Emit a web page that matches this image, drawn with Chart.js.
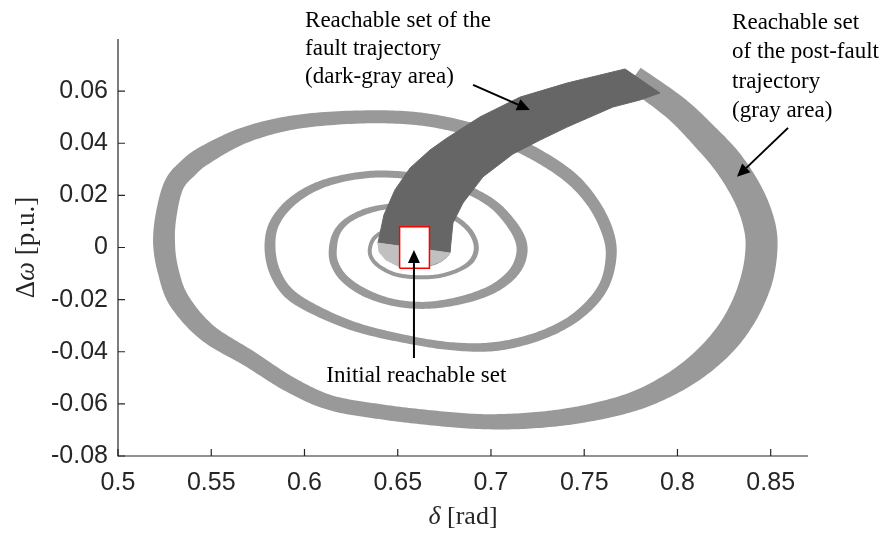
<!DOCTYPE html>
<html>
<head>
<meta charset="utf-8">
<title>Reachable sets in the δ–Δω plane</title>
<script src="https://cdn.jsdelivr.net/npm/chart.js@4.4.1/dist/chart.umd.min.js"></script>
<style>
  html, body { margin: 0; padding: 0; background: #fff; }
  #wrap { width: 887px; height: 534px; }
</style>
</head>
<body>
<div id="wrap"><canvas id="phase" width="887" height="534"></canvas></div>
<script>
// ---- data: [delta (rad), delta-omega (p.u.)] ----
const xTicks = [0.5, 0.55, 0.6, 0.65, 0.7, 0.75, 0.8, 0.85];
const yTicks = [-0.08, -0.06, -0.04, -0.02, 0, 0.02, 0.04, 0.06];

// post-fault reachable set, centre line of the spiral band, one array per turn
const postFaultTurn1 = [
  [0.7765, 0.0652], [0.7988, 0.0536], [0.8138, 0.0432], [0.8273, 0.0324], [0.8380, 0.0201],
  [0.8439, 0.0086], [0.8450, -0.0010], [0.8423, -0.0126], [0.8353, -0.0249], [0.8251, -0.0357],
  [0.8112, -0.0453], [0.7951, -0.0530], [0.7747, -0.0595], [0.7479, -0.0641], [0.7210, -0.0664],
  [0.6942, -0.0668], [0.6674, -0.0653], [0.6406, -0.0630], [0.6137, -0.0595], [0.5923, -0.0526],
  [0.5703, -0.0426], [0.5477, -0.0326], [0.5327, -0.0203], [0.5268, -0.0087], [0.5247, 0.0017],
  [0.5258, 0.0124], [0.5300, 0.0240], [0.5376, 0.0305], [0.5467, 0.0355], [0.5681, 0.0432],
  [0.5960, 0.0482], [0.6314, 0.0501], [0.6620, 0.0493]
];
const postFaultTurn2 = [
  [0.6888, 0.0455], [0.7103, 0.0405], [0.7291, 0.0336], [0.7441, 0.0259], [0.7548, 0.0170],
  [0.7618, 0.0074], [0.7645, -0.0018], [0.7618, -0.0126], [0.7543, -0.0210], [0.7414, -0.0287],
  [0.7237, -0.0345], [0.7023, -0.0380], [0.6808, -0.0380], [0.6583, -0.0357], [0.6298, -0.0310],
  [0.6084, -0.0249], [0.5923, -0.0180], [0.5842, -0.0095], [0.5815, 0.0001], [0.5837, 0.0090],
  [0.5923, 0.0170], [0.6057, 0.0232], [0.6218, 0.0267], [0.6406, 0.0282], [0.6620, 0.0270]
];
const postFaultTurn3 = [
  [0.6824, 0.0236], [0.6996, 0.0174], [0.7103, 0.0097], [0.7162, 0.0020], [0.7157, -0.0049],
  [0.7103, -0.0110], [0.6996, -0.0164], [0.6835, -0.0203], [0.6647, -0.0222], [0.6470, -0.0210],
  [0.6320, -0.0172], [0.6212, -0.0118], [0.6159, -0.0057], [0.6153, 0.0001], [0.6175, 0.0059],
  [0.6234, 0.0105], [0.6336, 0.0140], [0.6470, 0.0159], [0.6620, 0.0155]
];
const postFaultTurn4 = [
  [0.6754, 0.0132], [0.6851, 0.0090], [0.6905, 0.0043], [0.6921, -0.0007], [0.6894, -0.0053],
  [0.6824, -0.0087], [0.6717, -0.0110], [0.6599, -0.0114], [0.6486, -0.0103], [0.6400, -0.0072],
  [0.6357, -0.0037], [0.6352, 0.0001], [0.6379, 0.0040], [0.6449, 0.0067], [0.6550, 0.0074]
];
const postFaultTurn5 = [
  [0.6663, 0.0063], [0.6744, 0.0036], [0.6776, -0.0003], [0.6754, -0.0037], [0.6685, -0.0064],
  [0.6583, -0.0072], [0.6486, -0.0060]
];

// fault reachable set: the two long edges of the dark band
const faultUpperEdge = [
  [0.6394, 0.0017], [0.6426, 0.0125], [0.6485, 0.0221], [0.6566, 0.0305], [0.6673, 0.0374],
  [0.6764, 0.0420], [0.6941, 0.0501], [0.7156, 0.0577], [0.7408, 0.0631], [0.7719, 0.0685]
];
const faultLowerEdge = [
  [0.6780, -0.0021], [0.6796, 0.0094], [0.6850, 0.0171], [0.6957, 0.0271], [0.7118, 0.0359],
  [0.7263, 0.0412], [0.7408, 0.0462], [0.7654, 0.0539], [0.7799, 0.0566], [0.7906, 0.0593]
];

// light patch under the start of the fault band
const initialPatch = [
  [0.6394, 0.0017], [0.6400, -0.0017], [0.6437, -0.0048], [0.6501, -0.0071], [0.6582, -0.0079],
  [0.6662, -0.0071], [0.6732, -0.0052], [0.6770, -0.0033], [0.6780, -0.0021]
];

// initial reachable set (box)
const initialDelta = [0.651, 0.667];
const initialOmega = [-0.008, 0.008];

// ---- styles ----
// band thickness (px) along the spiral, one entry per centre-line point
const bandWidthTurn1 = [24, 26, 28, 30, 31, 32, 32, 32, 30, 28, 25, 22, 19, 17, 16, 15, 15, 15, 15, 16,
  17, 19, 21, 21, 22, 21, 20, 20, 19, 16, 14, 13, 13];
const bandWidthTurn2 = [13, 13, 13, 13, 12, 12, 11, 10, 10, 9, 9, 9, 8, 8, 9, 10, 11, 11, 11, 10, 9, 8, 7, 7, 7];
const bandWidthTurn3 = [8, 9, 10, 11, 11, 10, 9, 8, 7, 7, 8, 8, 8, 8, 7, 6, 6, 5, 5];
const bandWidthTurn4 = [5, 5, 5, 5, 5, 4, 4, 4, 4, 4, 4, 4, 4, 4, 4];
const bandWidthTurn5 = [3, 3, 3, 3, 3, 3, 3];

const COLORS = {
  postFault: "#999999",
  fault: "#666666",
  patch: "#c0c0c0",
  box: "#ff0000",
  axis: "#262626",
  text: "#000000",
};
const SANS = "'Liberation Sans', Arial, Helvetica, sans-serif";
const SERIF = "'Liberation Serif', 'Times New Roman', serif";

// ---- annotations (anchored in data coordinates) ----
const notes = [
  { lines: ["Reachable set of the", "fault trajectory", "(dark-gray area)"], at: [0.6003, 0.0869], lineHeight: 28 },
  { lines: ["Reachable set", "of the post-fault", "trajectory", "(gray area)"], at: [0.8293, 0.0862], lineHeight: 29.5 },
];
const initialNote = { text: "Initial reachable set", at: [0.6600, -0.0493] };
const arrows = [
  { from: [0.6904, 0.0624], to: [0.7209, 0.0528] },
  { from: [0.8593, 0.0459], to: [0.8319, 0.0271] },
  { from: [0.6587, -0.0424], to: [0.6587, -0.0010] },
];

const toPoints = (pairs) => pairs.map(([x, y]) => ({ x, y }));

const spiral = toPoints([...postFaultTurn1, ...postFaultTurn2, ...postFaultTurn3, ...postFaultTurn4, ...postFaultTurn5]);
const spiralWidth = [...bandWidthTurn1, ...bandWidthTurn2, ...bandWidthTurn3, ...bandWidthTurn4, ...bandWidthTurn5];

const faultShape = toPoints([...faultUpperEdge, ...faultLowerEdge.slice().reverse(), faultUpperEdge[0]]);
const patchShape = toPoints([...initialPatch, initialPatch[0]]);
const boxShape = toPoints([
  [initialDelta[0], initialOmega[0]], [initialDelta[0], initialOmega[1]],
  [initialDelta[1], initialOmega[1]], [initialDelta[1], initialOmega[0]],
  [initialDelta[0], initialOmega[0]]
]);

function drawArrow(ctx, x1, y1, x2, y2) {
  const ang = Math.atan2(y2 - y1, x2 - x1);
  const head = 13, half = 6;
  const bx = x2 - head * Math.cos(ang);
  const by = y2 - head * Math.sin(ang);
  ctx.beginPath();
  ctx.moveTo(x1, y1);
  ctx.lineTo(bx, by);
  ctx.stroke();
  ctx.beginPath();
  ctx.moveTo(x2, y2);
  ctx.lineTo(bx + half * Math.sin(ang), by - half * Math.cos(ang));
  ctx.lineTo(bx - half * Math.sin(ang), by + half * Math.cos(ang));
  ctx.closePath();
  ctx.fill();
}

// text made of runs with different fonts, centred on (cx, cy)
function drawRuns(ctx, runs, cx, cy) {
  const widths = runs.map((r) => { ctx.font = r.font; return ctx.measureText(r.text).width; });
  let pos = cx - widths.reduce((a, b) => a + b, 0) / 2;
  runs.forEach((r, i) => {
    ctx.font = r.font;
    ctx.fillText(r.text, pos, cy);
    pos += widths[i];
  });
}

// Fills a band of varying thickness around the dataset's line:
// Catmull-Rom through the element positions, offset along the normal.
const bandPlugin = {
  id: "bandFill",
  beforeDatasetDraw(chart, args) {
    const ds = chart.data.datasets[args.index];
    if (!ds.bandWidths) return;
    const pts = args.meta.data.map((p) => ({ x: p.x, y: p.y }));
    const w = ds.bandWidths;
    const n = pts.length;
    const samples = [];
    const steps = 16;
    for (let i = 0; i < n - 1; i++) {
      const p0 = pts[Math.max(i - 1, 0)], p1 = pts[i], p2 = pts[i + 1], p3 = pts[Math.min(i + 2, n - 1)];
      for (let k = 0; k < steps; k++) {
        const t = k / steps, t2 = t * t, t3 = t2 * t;
        const cr = (a, b, c, d) =>
          0.5 * (2 * b + (-a + c) * t + (2 * a - 5 * b + 4 * c - d) * t2 + (-a + 3 * b - 3 * c + d) * t3);
        samples.push({
          x: cr(p0.x, p1.x, p2.x, p3.x),
          y: cr(p0.y, p1.y, p2.y, p3.y),
          w: w[i] + (w[i + 1] - w[i]) * t,
        });
      }
    }
    samples.push({ x: pts[n - 1].x, y: pts[n - 1].y, w: w[n - 1] });

    const left = [], right = [];
    samples.forEach((s, i) => {
      const a = samples[Math.max(i - 1, 0)], b = samples[Math.min(i + 1, samples.length - 1)];
      let tx = b.x - a.x, ty = b.y - a.y;
      const len = Math.hypot(tx, ty) || 1;
      tx /= len; ty /= len;
      const h = s.w / 2;
      left.push([s.x - ty * h, s.y + tx * h]);
      right.push([s.x + ty * h, s.y - tx * h]);
    });

    const { ctx, chartArea } = chart;
    ctx.save();
    ctx.beginPath();
    ctx.rect(chartArea.left, chartArea.top, chartArea.right - chartArea.left, chartArea.bottom - chartArea.top);
    ctx.clip();
    ctx.fillStyle = ds.borderColor;
    ctx.beginPath();
    left.forEach(([x, y], i) => (i ? ctx.lineTo(x, y) : ctx.moveTo(x, y)));
    for (let i = right.length - 1; i >= 0; i--) ctx.lineTo(right[i][0], right[i][1]);
    ctx.closePath();
    ctx.fill("nonzero");
    ctx.restore();
    return false;
  },
};

const framePlugin = {
  id: "phaseFrame",
  afterDatasetsDraw(chart) {
    const { ctx, chartArea: area, scales: { x, y } } = chart;
    ctx.save();

    // left and bottom axis lines with inward ticks
    ctx.strokeStyle = COLORS.axis;
    ctx.lineWidth = 1.2;
    ctx.beginPath();
    ctx.moveTo(area.left, area.top);
    ctx.lineTo(area.left, area.bottom);
    ctx.lineTo(area.right, area.bottom);
    ctx.stroke();
    const tick = 7;
    ctx.beginPath();
    xTicks.forEach((v) => {
      const p = x.getPixelForValue(v);
      ctx.moveTo(p, area.bottom);
      ctx.lineTo(p, area.bottom - tick);
    });
    yTicks.forEach((v) => {
      const p = y.getPixelForValue(v);
      ctx.moveTo(area.left, p);
      ctx.lineTo(area.left + tick, p);
    });
    ctx.stroke();

    // axis titles
    ctx.fillStyle = COLORS.axis;
    ctx.textBaseline = "middle";
    ctx.textAlign = "left";
    drawRuns(ctx, [
      { text: "δ", font: `italic 26px ${SERIF}` },
      { text: " [rad]", font: `26px ${SERIF}` },
    ], (area.left + area.right) / 2, 517);

    ctx.save();
    ctx.translate(27, y.getPixelForValue(0));
    ctx.rotate(-Math.PI / 2);
    drawRuns(ctx, [
      { text: "Δ", font: `27px ${SERIF}` },
      { text: "ω", font: `italic 27px ${SERIF}` },
      { text: " [p.u.]", font: `27px ${SERIF}` },
    ], 0, 0);
    ctx.restore();

    // annotations
    ctx.fillStyle = COLORS.text;
    ctx.strokeStyle = COLORS.text;
    ctx.lineWidth = 2;
    ctx.font = `23px ${SERIF}`;
    notes.forEach((n) => {
      const x0 = x.getPixelForValue(n.at[0]);
      const y0 = y.getPixelForValue(n.at[1]);
      n.lines.forEach((line, i) => ctx.fillText(line, x0, y0 + i * n.lineHeight));
    });
    ctx.textAlign = "center";
    ctx.fillText(initialNote.text, x.getPixelForValue(initialNote.at[0]), y.getPixelForValue(initialNote.at[1]));
    arrows.forEach((a) => {
      drawArrow(ctx,
        x.getPixelForValue(a.from[0]), y.getPixelForValue(a.from[1]),
        x.getPixelForValue(a.to[0]), y.getPixelForValue(a.to[1]));
    });

    ctx.restore();
  },
};

const shapeStyle = (color, order) => ({
  order,
  showLine: true,
  tension: 0,
  borderColor: color,
  borderWidth: 1,
  backgroundColor: color,
  fill: "shape",
  pointRadius: 0,
});

new Chart(document.getElementById("phase"), {
  type: "scatter",
  data: {
    datasets: [
      {
        label: "initial set",
        data: boxShape,
        ...shapeStyle(COLORS.box, 0),
        borderWidth: 1.5,
        backgroundColor: "#ffffff",
      },
      { label: "initial patch", data: patchShape, ...shapeStyle(COLORS.patch, 1) },
      { label: "fault trajectory", data: faultShape, ...shapeStyle(COLORS.fault, 2) },
      {
        label: "post-fault trajectory",
        data: spiral,
        bandWidths: spiralWidth,
        order: 3,
        showLine: true,
        borderColor: COLORS.postFault,
        fill: false,
        pointRadius: 0,
      },
    ],
  },
  options: {
    responsive: false,
    animation: false,
    devicePixelRatio: 1,
    layout: { padding: { top: 39, right: 79, left: 0, bottom: 0 } },
    plugins: { legend: { display: false }, tooltip: { enabled: false } },
    scales: {
      x: {
        type: "linear",
        min: 0.5,
        max: 0.87,
        grid: { display: false, drawTicks: false },
        border: { display: false },
        afterBuildTicks: (s) => { s.ticks = xTicks.map((v) => ({ value: v })); },
        afterFit: (s) => { s.height = 78; },
        ticks: {
          autoSkip: false,
          maxRotation: 0,
          padding: 12,
          color: COLORS.axis,
          font: { family: SANS, size: 25 },
          callback: (v) => String(v),
        },
      },
      y: {
        type: "linear",
        min: -0.08,
        max: 0.08,
        grid: { display: false, drawTicks: false },
        border: { display: false },
        afterBuildTicks: (s) => { s.ticks = yTicks.map((v) => ({ value: v })); },
        afterFit: (s) => { s.width = 118; },
        ticks: {
          autoSkip: false,
          padding: 10,
          color: COLORS.axis,
          font: { family: SANS, size: 25 },
          callback: (v) => String(v),
        },
      },
    },
  },
  plugins: [bandPlugin, framePlugin],
});
</script>
</body>
</html>
